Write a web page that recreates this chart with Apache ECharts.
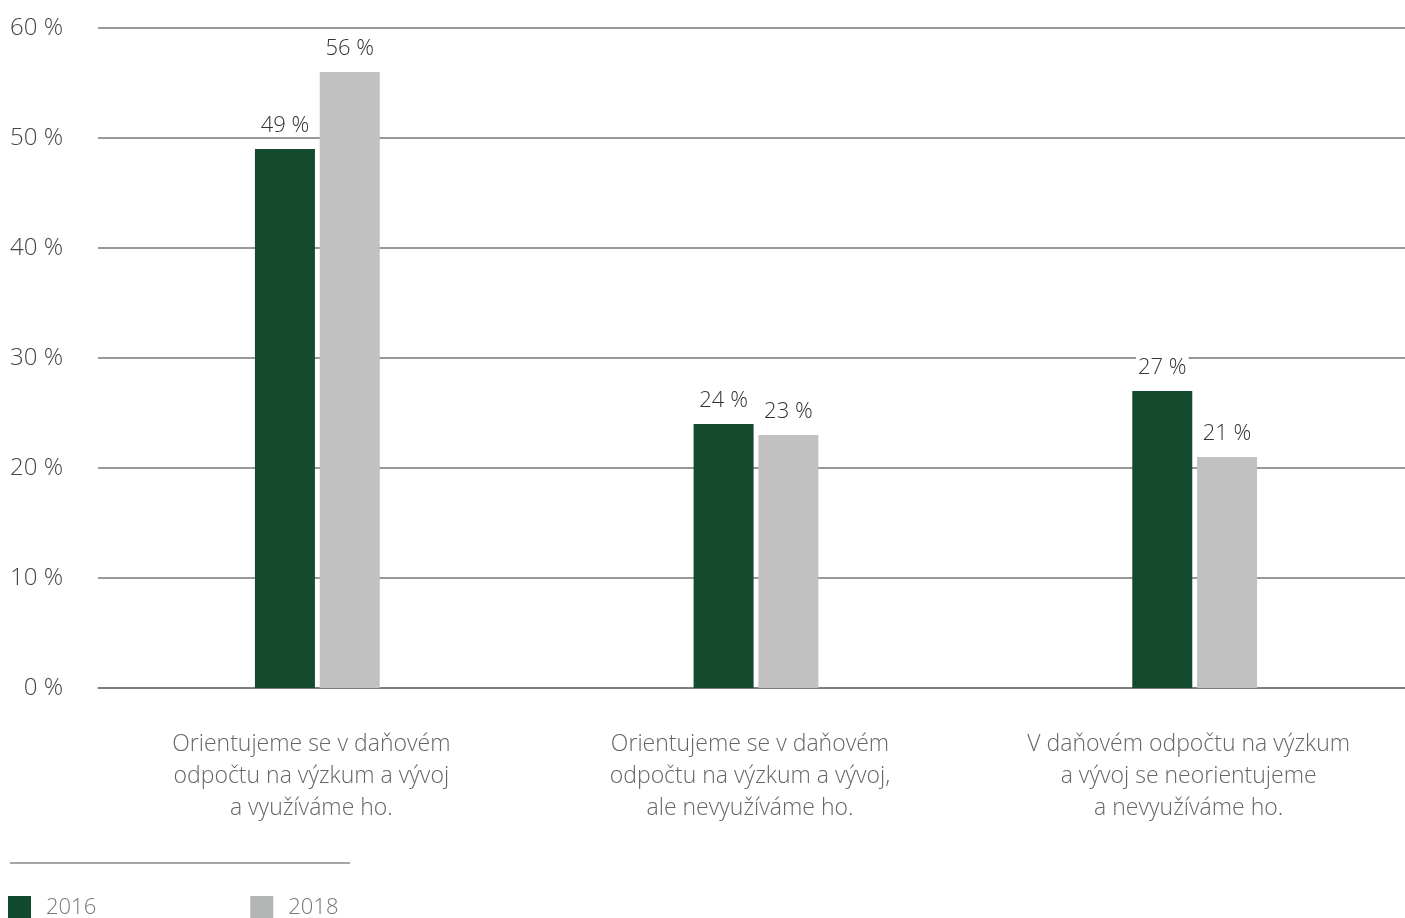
<!DOCTYPE html>
<html><head><meta charset="utf-8">
<script src="https://cdn.jsdelivr.net/npm/echarts@6/dist/echarts.min.js"></script>
<style>html,body{margin:0;padding:0;background:#fff}#c{width:1405px;height:918px}</style>
</head><body><div id="c"></div>
<script>
const categories = [
  'Orientujeme se v daňovém\nodpočtu na výzkum a vývoj\na využíváme ho.',
  'Orientujeme se v daňovém\nodpočtu na výzkum a vývoj,\nale nevyužíváme ho.',
  'V daňovém odpočtu na výzkum\na vývoj se neorientujeme\na nevyužíváme ho.'
];
const values2016 = [49, 24, 27];
const values2018 = [56, 23, 21];
const seriesNames = ['2016', '2018'];
const FONT = '"Open Sans", "Noto Sans", sans-serif';
const chart = echarts.init(document.getElementById('c'));
const labelCfg = {
  show: true, position: 'top', distance: 12,
  formatter: p => p.value + ' %',
  color: '#333', fontSize: 22, fontFamily: FONT, fontWeight: 300,
  backgroundColor: '#fff', padding: [2, 2, 0, 2]
};
chart.setOption({
  animation: false,
  textStyle: { fontFamily: FONT },
  grid: { left: 98, right: -9, top: 28, bottom: 230, outerBoundsMode: 'none', containLabel: false },
  legend: {
    left: 3, bottom: -6, itemWidth: 23, itemHeight: 23, itemGap: 154,
    icon: 'rect',
    textStyle: { color: '#777', fontSize: 22, fontFamily: FONT, fontWeight: 300, padding: [0, 0, 0, 10] },
    data: [
      { name: seriesNames[0], itemStyle: { color: '#0f4a2c' } },
      { name: seriesNames[1], itemStyle: { color: '#b3b5b5' } }
    ]
  },
  graphic: [{ type: 'line', shape: { x1: 10, y1: 863, x2: 350, y2: 863 }, style: { stroke: '#8a8a8a', lineWidth: 1.5 } }],
  xAxis: {
    type: 'category', data: categories,
    axisLine: { show: true, lineStyle: { color: '#777', width: 1.5 } },
    axisTick: { show: false },
    axisLabel: { color: '#666', fontSize: 23, fontFamily: FONT, fontWeight: 300, lineHeight: 32, margin: 40, padding: [0, 12, 0, 0] }
  },
  yAxis: {
    type: 'value', min: 0, max: 60, interval: 10,
    axisLabel: { formatter: '{value} %', color: '#444', fontSize: 24, fontFamily: FONT, fontWeight: 300, margin: 35 },
    axisLine: { show: false }, axisTick: { show: false },
    splitLine: { lineStyle: { color: '#777', width: 1.5 } }
  },
  series: [
    { name: seriesNames[0], type: 'bar', data: values2016, barWidth: 60, barGap: '8%',
      itemStyle: { color: '#144a2d' }, label: labelCfg },
    { name: seriesNames[1], type: 'bar', data: values2018, barWidth: 60,
      itemStyle: { color: '#c1c1c1' }, label: labelCfg }
  ]
});
</script></body></html>
